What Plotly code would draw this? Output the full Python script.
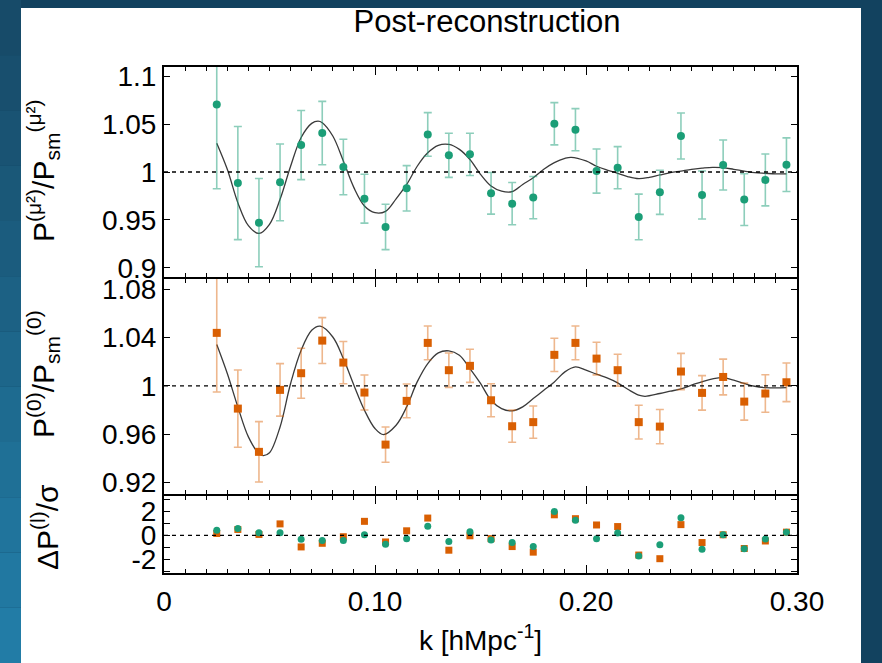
import plotly.graph_objects as go

# ---------------- data ----------------
k = [0.025, 0.035, 0.045, 0.055, 0.065, 0.075, 0.085, 0.095, 0.105, 0.115,
     0.125, 0.135, 0.145, 0.155, 0.165, 0.175, 0.185, 0.195, 0.205, 0.215,
     0.225, 0.235, 0.245, 0.255, 0.265, 0.275, 0.285, 0.295]

mu2_ratio = [1.0705, 0.9885, 0.9472, 0.9892, 1.0281, 1.0406, 1.0052, 0.9722, 0.9427, 0.9830,
             1.0392, 1.0174, 1.0184, 0.9778, 0.9670, 0.9733, 1.0503, 1.0441, 1.0010, 1.0045,
             0.9531, 0.9788, 1.0375, 0.9760, 1.0073, 0.9712, 0.9917, 1.0076]
mu2_err = [0.088, 0.059, 0.046, 0.040, 0.036, 0.033, 0.029, 0.0255, 0.0236, 0.0236,
           0.0227, 0.023, 0.022, 0.0217, 0.022, 0.022, 0.022, 0.022, 0.023, 0.022,
           0.0238, 0.023, 0.024, 0.025, 0.026, 0.027, 0.027, 0.028]

mono_ratio = [1.0439, 0.9812, 0.9454, 0.9967, 1.0105, 1.0375, 1.0193, 0.9945, 0.9514, 0.9876,
              1.0356, 1.0130, 1.0166, 0.9881, 0.9666, 0.9700, 1.0257, 1.0356, 1.0226, 1.0130,
              0.9700, 0.9663, 1.0119, 0.9942, 1.0074, 0.9870, 0.9937, 1.0030]
mono_err = [0.049, 0.032, 0.025, 0.0217, 0.0207, 0.019, 0.0175, 0.0145, 0.0146, 0.014,
            0.014, 0.0142, 0.0137, 0.0137, 0.0133, 0.0134, 0.0138, 0.014, 0.0135, 0.0132,
            0.014, 0.0142, 0.015, 0.0143, 0.0148, 0.0153, 0.0155, 0.016]

mu2_resid = [0.43, 0.57, 0.22, 0.22, -0.32, -0.41, -0.43, 0.05, -0.73, -0.27,
             0.76, -0.51, 0.30, -0.38, -0.59, -0.92, 1.97, 1.24, -0.27, 0.19,
             -1.70, -0.78, 1.46, -1.14, 0.05, -1.11, -0.30, 0.27]
mono_resid = [0.16, 0.49, 0.08, 0.95, -0.95, -0.65, -0.11, 1.16, -0.54, 0.38,
              1.43, -1.22, -0.03, -0.27, -0.92, -1.38, 1.70, 1.38, 0.86, 0.73,
              -1.62, -1.92, 0.89, -0.59, 0.05, -1.08, -0.46, 0.27]

# model curves
mu2_model_k = [0.025, 0.030, 0.035, 0.040, 0.045, 0.050, 0.055, 0.060, 0.065, 0.070,
               0.073, 0.075, 0.080, 0.085, 0.090, 0.095, 0.100, 0.105, 0.110, 0.115,
               0.120, 0.125, 0.130, 0.135, 0.140, 0.145, 0.150, 0.155, 0.160, 0.165,
               0.170, 0.175, 0.180, 0.185, 0.190, 0.193, 0.200, 0.205, 0.210, 0.215,
               0.220, 0.225, 0.230, 0.235, 0.240, 0.245, 0.250, 0.255, 0.260, 0.265,
               0.270, 0.275, 0.280, 0.285, 0.290, 0.295]
mu2_model = [1.030, 1.0028, 0.968, 0.944, 0.936, 0.9455, 0.9715, 1.006, 1.036, 1.0507,
             1.053, 1.0514, 1.0375, 1.0115, 0.9837, 0.9646, 0.9576, 0.959, 0.972, 0.987,
             1.006, 1.020, 1.0278, 1.0288, 1.0236, 1.013, 0.9976, 0.9854, 0.980, 0.9795,
             0.987, 0.994, 1.0028, 1.0097, 1.0142, 1.0153, 1.0115, 1.006, 1.002, 0.9986,
             0.995, 0.993, 0.9944, 0.9969, 0.9993, 1.001, 1.0028, 1.004, 1.0049, 1.0045,
             1.0028, 1.001, 0.9993, 0.9986, 0.998, 0.998]

mono_model_k = [0.025, 0.030, 0.035, 0.040, 0.045, 0.047, 0.050, 0.055, 0.060, 0.065,
                0.070, 0.074, 0.080, 0.085, 0.090, 0.095, 0.100, 0.104, 0.110, 0.115,
                0.120, 0.125, 0.130, 0.135, 0.140, 0.145, 0.150, 0.155, 0.160, 0.165,
                0.170, 0.175, 0.180, 0.185, 0.190, 0.195, 0.200, 0.205, 0.210, 0.215,
                0.220, 0.225, 0.228, 0.235, 0.240, 0.245, 0.250, 0.255, 0.260, 0.265,
                0.270, 0.275, 0.280, 0.285, 0.290, 0.295]
mono_model = [1.0342, 1.0102, 0.9826, 0.9578, 0.944, 0.9423, 0.9446, 0.966, 1.002, 1.0295,
              1.046, 1.0494, 1.0405, 1.0226, 1.0006, 0.9799, 0.9647, 0.9597, 0.9674, 0.9826,
              1.0033, 1.0185, 1.0273, 1.029, 1.0254, 1.0143, 1.002, 0.9881, 0.9812, 0.9793,
              0.9826, 0.9895, 0.9964, 1.0033, 1.0116, 1.0157, 1.013, 1.0097, 1.0066, 1.0025,
              0.997, 0.9923, 0.9914, 0.9937, 0.9956, 0.9975, 1.0006, 1.0033, 1.0058, 1.0069,
              1.0047, 1.002, 0.9997, 0.9986, 0.9983, 0.9986]

x_tickvals = [0, 0.1, 0.2, 0.3]
x_ticktext = ["0", "0.10", "0.20", "0.30"]
top_tickvals = [0.9, 0.95, 1.0, 1.05, 1.1]
top_ticktext = ["0.9", "0.95", "1", "1.05", "1.1"]
mid_tickvals = [0.92, 0.96, 1.0, 1.04, 1.08]
mid_ticktext = ["0.92", "0.96", "1", "1.04", "1.08"]
bot_tickvals = [-3, -2, -1, 0, 1, 2, 3]
bot_ticktext = ["", "-2", "", "0", "", "2", ""]

# ---------------- style ----------------
GREEN = "#1b9e77"
ORANGE = "#d95f02"
FONT = "Liberation Sans, Arial, sans-serif"
W, H = 882, 663
L, R, T, B = 164, 797, 67, 573  # plot-area pixel box


def px_x(x):
    return (x - L) / (R - L)


def px_y(y):
    return (B - y) / (B - T)


fig = go.Figure()

# top panel
fig.add_trace(go.Scatter(x=mu2_model_k, y=mu2_model, mode="lines", line=dict(color="#3a3a3a", width=1.3, shape="spline"),
                         xaxis="x3", yaxis="y3", showlegend=False, hoverinfo="skip"))
fig.add_trace(go.Scatter(x=k, y=mu2_ratio, mode="markers",
                         marker=dict(color=GREEN, size=8, symbol="circle"),
                         error_y=dict(type="data", array=mu2_err, color="rgba(27,158,119,0.5)", thickness=1.6, width=4),
                         xaxis="x3", yaxis="y3", showlegend=False))
# middle panel
fig.add_trace(go.Scatter(x=mono_model_k, y=mono_model, mode="lines", line=dict(color="#3a3a3a", width=1.3, shape="spline"),
                         xaxis="x2", yaxis="y2", showlegend=False, hoverinfo="skip"))
fig.add_trace(go.Scatter(x=k, y=mono_ratio, mode="markers",
                         marker=dict(color=ORANGE, size=8, symbol="square"),
                         error_y=dict(type="data", array=mono_err, color="rgba(217,95,2,0.45)", thickness=1.6, width=4),
                         xaxis="x2", yaxis="y2", showlegend=False))
# bottom panel
fig.add_trace(go.Scatter(x=k, y=mono_resid, mode="markers", marker=dict(color=ORANGE, size=7, symbol="square"),
                         xaxis="x", yaxis="y", showlegend=False))
fig.add_trace(go.Scatter(x=k, y=mu2_resid, mode="markers", marker=dict(color=GREEN, size=7, symbol="circle"),
                         xaxis="x", yaxis="y", showlegend=False))

# dashed reference lines
for xr, yr, yv in [("x3", "y3", 1.0), ("x2", "y2", 1.0), ("x", "y", 0.0)]:
    fig.add_shape(type="line", xref=xr + " domain", yref=yr, x0=0, x1=1, y0=yv, y1=yv,
                  line=dict(color="black", width=1.4, dash="4px,4px"), layer="above")

tickfont = dict(family=FONT, size=28, color="black")
xcommon = dict(range=[0, 0.3], showline=True, linecolor="black", linewidth=2, mirror="ticks",
               ticks="inside", ticklen=8, tickwidth=1, tickcolor="black",
               tickvals=x_tickvals, ticktext=x_ticktext, showgrid=False, zeroline=False,
               minor=dict(dtick=0.01, ticks="inside", ticklen=4, tickcolor="black", tickwidth=1, showgrid=False))
ycommon = dict(showline=True, linecolor="black", linewidth=2, mirror="ticks", ticks="inside", ticklen=6,
               tickwidth=1, tickcolor="black", showgrid=False, zeroline=False, tickfont=tickfont)

# panel boundaries (screen px); adjacent panels offset by 2px so their frame lines coincide
top_dom = [px_y(277), 1]
mid_dom = [px_y(494), px_y(279)]
bot_dom = [0, px_y(496)]

fig.update_layout(
    width=W, height=H,
    margin=dict(l=L, r=W - R, t=T, b=H - B),
    paper_bgcolor="#12425f",
    plot_bgcolor="white",
    font=dict(family=FONT, color="black"),
    xaxis=dict(**xcommon, anchor="y", tickfont=tickfont, ticklabelstandoff=2,
               title=dict(text="k [hMpc<sup>-1</sup>]", font=dict(family=FONT, size=28, color="black"), standoff=15)),
    xaxis2=dict(**xcommon, anchor="y2", showticklabels=False, matches="x"),
    xaxis3=dict(**xcommon, anchor="y3", showticklabels=False, matches="x"),
    yaxis=dict(**ycommon, domain=bot_dom, range=[-3.1, 3.25], tickvals=bot_tickvals, ticktext=bot_ticktext, anchor="x"),
    yaxis2=dict(**ycommon, domain=mid_dom, range=[0.9105, 1.0885], tickvals=mid_tickvals, ticktext=mid_ticktext, anchor="x2"),
    yaxis3=dict(**ycommon, domain=top_dom, range=[0.8905, 1.1095], tickvals=top_tickvals, ticktext=top_ticktext, anchor="x3"),
    title=dict(text="Post-reconstruction", font=dict(family=FONT, size=31, color="black"),
               x=px_x(487), xref="paper", xanchor="center", y=1 - 21 / H, yref="container", yanchor="middle"),
)

# white "slide" panel and gradient strips
shapes_bg = [dict(type="rect", xref="paper", yref="paper", x0=px_x(21), x1=px_x(861), y0=px_y(663), y1=px_y(8),
                  fillcolor="white", line=dict(width=0), layer="below")]
grad = ["#174b69", "#184f6e", "#195373", "#1a5878", "#1b5c7e", "#1c6184", "#1d668a", "#1e6b90",
        "#1f7096", "#20749c", "#2178a1", "#227ca6"]
n = len(grad)
for i, c in enumerate(grad):
    y_top = i * H / n
    y_bot = (i + 1) * H / n
    shapes_bg.append(dict(type="rect", xref="paper", yref="paper", x0=px_x(0), x1=px_x(21),
                          y0=px_y(y_bot), y1=px_y(y_top), fillcolor=c, line=dict(width=0), layer="below"))
for s in shapes_bg:
    fig.add_shape(**s)

# y-axis titles
ytitle_font = dict(family=FONT, size=30, color="black")
for txt, yc in [("P<sup>(μ²)</sup>/P<sub>sm</sub><sup>(μ²)</sup>", 171),
                ("P<sup>(0)</sup>/P<sub>sm</sub><sup>(0)</sup>", 374),
                ("ΔP<sup>(l)</sup>/σ", 527)]:
    fig.add_annotation(text=txt, xref="paper", yref="paper", x=px_x(66), y=px_y(yc), xanchor="right",
                       yanchor="middle", textangle=-90, showarrow=False, font=ytitle_font)

fig.write_html("out.html", config={"displayModeBar": False},
               post_script="document.body.style.margin='0';document.body.style.background='#12425f';")
